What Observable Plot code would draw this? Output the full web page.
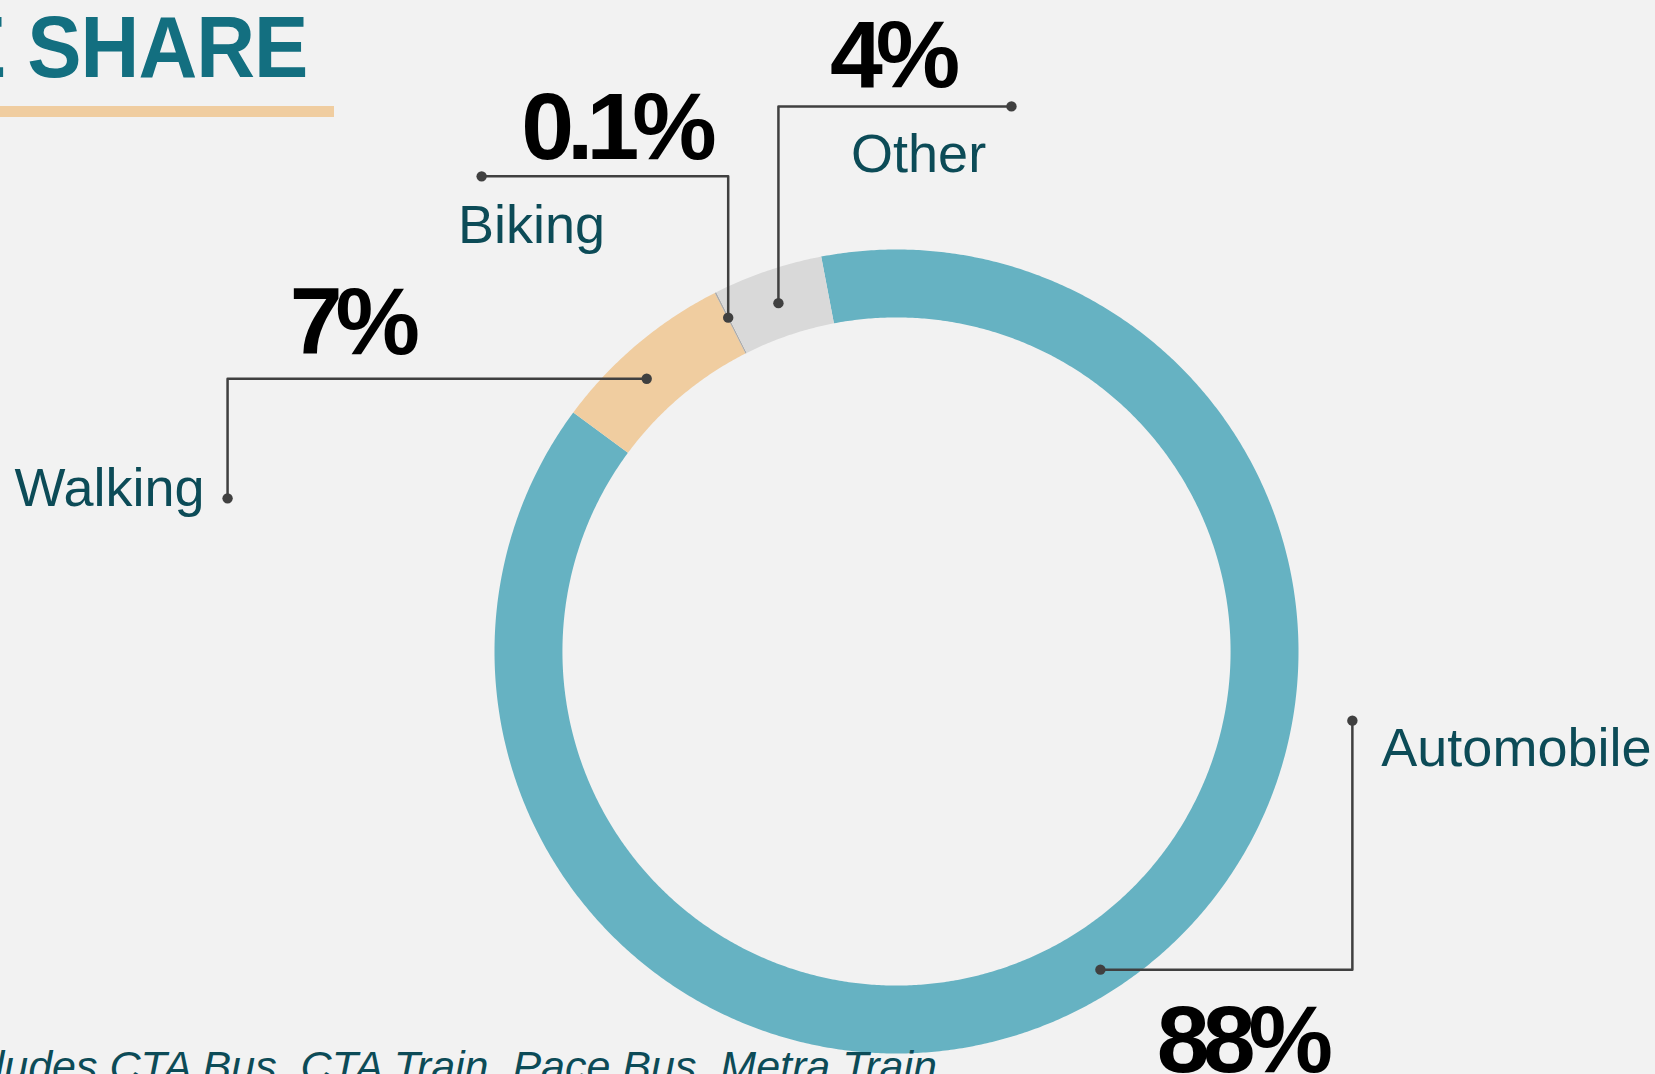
<!DOCTYPE html>
<html>
<head>
<meta charset="utf-8">
<script src="https://cdn.jsdelivr.net/npm/d3@7"></script>
<script src="https://cdn.jsdelivr.net/npm/@observablehq/plot@0.6"></script>
<style>
  html, body { margin: 0; padding: 0; background: #f2f2f2; overflow: hidden; }
  #page { position: relative; width: 1655px; height: 1074px; overflow: hidden; background: #f2f2f2;
          font-family: "Liberation Sans", Arial, sans-serif; }
  #chart { position: absolute; left: 0; top: 0; }
  #title { position: absolute; right: 1348px; top: 3px; white-space: nowrap; font-size: 88px; line-height: 1;
           font-weight: 700; color: #136f80; letter-spacing: -1px; transform: scaleX(0.925); transform-origin: right center; }
  #rule { position: absolute; left: 0; top: 106px; width: 334px; height: 11px; background: #f0cda0; }
  #caption { position: absolute; right: 718px; top: 1045px; white-space: nowrap; font-size: 43px; line-height: 1;
             font-style: italic; color: #0c4b57; }
</style>
</head>
<body>
<div id="page">
  <div id="chart"></div>
  <div id="title">MODE SHARE</div>
  <div id="rule"></div>
  <div id="caption">*Transit includes CTA Bus, CTA Train, Pace Bus, Metra Train</div>
</div>
<script>
// ---- data ----
const modes = ["Automobile", "Walking", "Biking", "Other"];
const shares = [88.1, 7.4, 0.06, 4.4];
const shareLabels = ["88%", "7%", "0.1%", "4%"];

// ---- styles ----
const sliceColors = ["#66b2c2", "#f0cda0", "#a9a9a9", "#d9d9d9"];
const labelColor = "#0c4b57";
const leaderColor = "#404040";
const font = "'Liberation Sans', Arial, sans-serif";

// ---- layout (ring units: outer radius = 1, centre at origin, y up) ----
const W = 1655, H = 1074;
const ring = {cx: 896, cy: 651, outerPx: 402, inner: 0.831, startAngle: -10.8};
const leaders = {
  Automobile: {turn: "h", r: 0.94, da: -0.5, x: 1.134, y: -0.172, lx: 1.206, ly: -0.286, anchor: "start", px: 0.858, py: -1.047},
  Walking:    {turn: "h", r: 0.92, da: -2.3, x: -1.664, y: 0.381, lx: -1.721, ly: 0.363, anchor: "end", px: -1.356, py: 0.739},
  Biking:     {turn: "v", r: 0.93, da: 0, x: -1.032, y: 1.182, lx: -0.908, ly: 1.015, anchor: "middle", px: -0.699, py: 1.226},
  Other:      {turn: "v", r: 0.915, da: 0, x: 0.286, y: 1.356, lx: 0.055, ly: 1.194, anchor: "middle", px: -0.012, py: 1.405}
};

// ---- derived geometry from data ----
const rad = d => d * Math.PI / 180;
const polar = (a, r) => ({x: r * Math.sin(rad(a)), y: r * Math.cos(rad(a))});
const total = d3.sum(shares);
let acc = 0;
const slices = modes.map((m, i) => {
  const a0 = ring.startAngle + acc / total * 360;
  acc += shares[i];
  const a1 = ring.startAngle + acc / total * 360;
  return {mode: m, a0, a1, mid: (a0 + a1) / 2, label: shareLabels[i]};
});
const ringPts = slices.flatMap(s => {
  const n = Math.max(2, Math.ceil((s.a1 - s.a0) / 0.4) + 1);
  const angles = d3.range(n).map(k => s.a0 + (s.a1 - s.a0) * k / (n - 1));
  return [
    ...angles.map(a => ({mode: s.mode, ...polar(a, 1)})),
    ...angles.slice().reverse().map(a => ({mode: s.mode, ...polar(a, ring.inner)}))
  ];
});
const leaderPts = slices.flatMap(s => {
  const L = leaders[s.mode];
  const p = polar(s.mid + L.da, L.r);
  const elbow = L.turn === "h" ? {x: L.x, y: p.y} : {x: p.x, y: L.y};
  return [{mode: s.mode, ...p}, {mode: s.mode, ...elbow}, {mode: s.mode, x: L.x, y: L.y}];
});
const dotPts = leaderPts.filter((d, i) => i % 3 !== 1);
const nameRows = slices.map(s => ({mode: s.mode, x: leaders[s.mode].lx, y: leaders[s.mode].ly, anchor: leaders[s.mode].anchor}));
const pctRows = slices.map(s => ({label: s.label, x: leaders[s.mode].px, y: leaders[s.mode].py}));

const R = ring.outerPx;
const chart = Plot.plot({
  width: W, height: H, margin: 0,
  style: {background: "transparent", fontFamily: font, overflow: "visible"},
  x: {axis: null, domain: [-ring.cx / R, (W - ring.cx) / R]},
  y: {axis: null, domain: [-(H - ring.cy) / R, ring.cy / R]},
  color: {domain: modes, range: sliceColors},
  marks: [
    Plot.line(ringPts, {x: "x", y: "y", z: "mode", fill: "mode", stroke: "none", curve: "linear-closed"}),
    Plot.line(leaderPts, {x: "x", y: "y", z: "mode", stroke: leaderColor, strokeWidth: 2.5, curve: "linear"}),
    Plot.dot(dotPts, {x: "x", y: "y", r: 5.2, fill: leaderColor, stroke: "none"}),
    ...["start", "middle", "end"].map(anchor =>
      Plot.text(nameRows.filter(d => d.anchor === anchor), {
        x: "x", y: "y", text: "mode", textAnchor: anchor, lineAnchor: "bottom",
        fontSize: 54, fill: labelColor, fontFamily: font
      })),
    Plot.text(pctRows, {
      x: "x", y: "y", text: "label", textAnchor: "middle", lineAnchor: "bottom",
      fontSize: 95, fontWeight: "bold", fill: "#000", fontFamily: font
    })
  ]
});
d3.select(chart).selectAll("g[font-weight=bold] text").attr("letter-spacing", "-7px");
document.getElementById("chart").appendChild(chart);
</script>
</body>
</html>
